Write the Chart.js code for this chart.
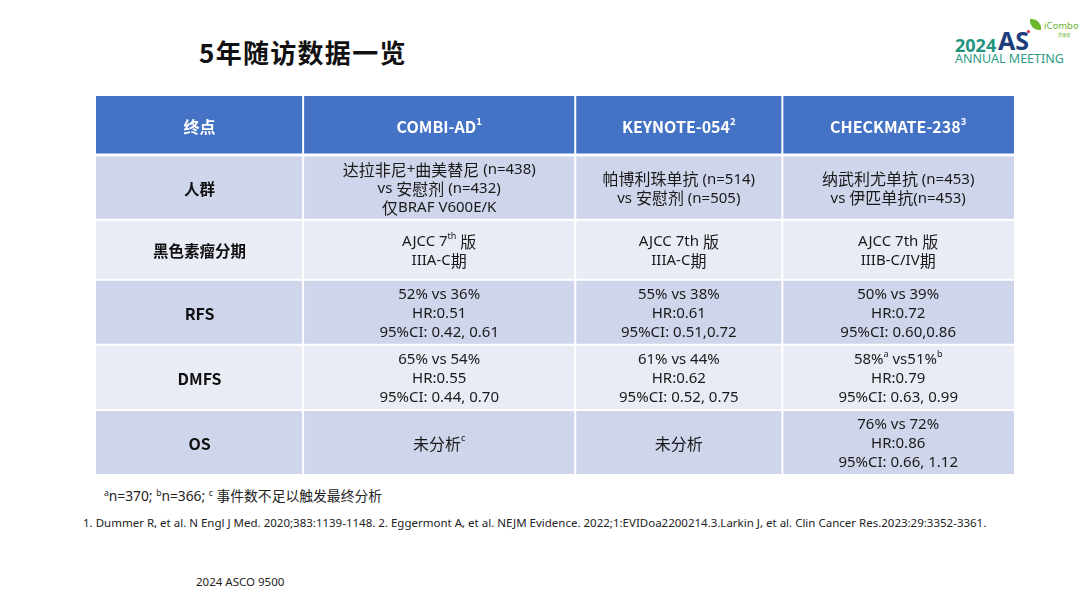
<!DOCTYPE html>
<html>
<head>
<meta charset="utf-8">
<script src="https://cdn.jsdelivr.net/npm/chart.js@4.4.1/dist/chart.umd.min.js"></script>
<style>
  body { margin: 0; width: 1080px; height: 608px; background: #fff; position: relative; overflow: hidden;
         font-family: "Noto Sans", "Liberation Sans", "Noto Sans CJK SC", sans-serif; color: #111; }
  #title { position: absolute; left: 199px; top: 33px; font-size: 26px; font-weight: 700; letter-spacing: 1.3px;
           font-family: "Noto Sans CJK SC", sans-serif; }
  #wrap { position: absolute; left: 96px; top: 96px; width: 918px; height: 378px; }
  #note { position: absolute; left: 104px; top: 485px; font-size: 13.8px; color: #222; }
  #note sup { font-size: 8.5px; vertical-align: 5px; }
  #refs { position: absolute; left: 83px; top: 515px; font-size: 11.5px; color: #222; white-space: nowrap; }
  #src { position: absolute; left: 196px; top: 574px; font-size: 11.5px; color: #222; }
  .logo { position: absolute; white-space: nowrap; line-height: 1; }
</style>
</head>
<body>
<div id="title">5年随访数据一览</div>

<div class="logo" style="left:955px;top:36px;font-size:18px;font-weight:700;color:#23957f;">2024</div>
<div class="logo" style="left:998px;top:28px;font-size:25px;font-weight:700;color:#1d3d7c;">AS</div>
<div class="logo" style="left:1027px;top:30px;width:3px;height:3px;border-radius:2px;background:#d9262b;"></div>
<div class="logo" style="left:955px;top:53px;font-size:12.5px;color:#2a9c86;">ANNUAL MEETING</div>
<div class="logo" style="left:1030px;top:19px;width:11px;height:11px;background:#6cb52d;border-radius:0 9px 0 9px;"></div>
<div class="logo" style="left:1044px;top:21px;font-size:9.5px;color:#6cb52d;">iCombo</div>
<div class="logo" style="left:1058px;top:33px;font-size:4px;color:#6cb52d;font-family:'Noto Sans CJK SC';">爱康博</div>

<div id="wrap"><canvas id="tbl" width="918" height="378"></canvas></div>

<div id="note"><sup>a</sup>n=370; <sup>b</sup>n=366; <sup>c</sup> 事件数不足以触发最终分析</div>
<div id="refs">1. Dummer R, et al. N Engl J Med. 2020;383:1139-1148. 2. Eggermont A, et al. NEJM Evidence. 2022;1:EVIDoa2200214.3.Larkin J, et al. Clin Cancer Res.2023:29:3352-3361.</div>
<div id="src">2024 ASCO 9500</div>

<script>
// table content, ^{..} marks a superscript
var headers = ['终点', 'COMBI-AD^{1}', 'KEYNOTE-054^{2}', 'CHECKMATE-238^{3}'];
var endpoints = ['人群', '黑色素瘤分期', 'RFS', 'DMFS', 'OS'];
var combiAd = [
    ['达拉非尼+曲美替尼 (n=438)', 'vs 安慰剂 (n=432)', '仅BRAF V600E/K'],
    ['AJCC 7^{th} 版', 'IIIA-C期'],
    ['52% vs 36%', 'HR:0.51', '95%CI: 0.42, 0.61'],
    ['65% vs 54%', 'HR:0.55', '95%CI: 0.44, 0.70'],
    ['未分析^{c}']
];
var keynote054 = [
    ['帕博利珠单抗 (n=514)', 'vs 安慰剂 (n=505)'],
    ['AJCC 7th 版', 'IIIA-C期'],
    ['55% vs 38%', 'HR:0.61', '95%CI: 0.51,0.72'],
    ['61% vs 44%', 'HR:0.62', '95%CI: 0.52, 0.75'],
    ['未分析']
];
var checkmate238 = [
    ['纳武利尤单抗 (n=453)', 'vs 伊匹单抗(n=453)'],
    ['AJCC 7th 版', 'IIIB-C/IV期'],
    ['50% vs 39%', 'HR:0.72', '95%CI: 0.60,0.86'],
    ['58%^{a} vs51%^{b}', 'HR:0.79', '95%CI: 0.63, 0.99'],
    ['76% vs 72%', 'HR:0.86', '95%CI: 0.66, 1.12']
];

// layout of the grid (in scale units)
var COL_WIDTHS = [207, 272, 207, 231.5];
var ROW_HEIGHTS = [59, 64.5, 60, 65, 65, 64];
var CJK_FONT = '"Noto Sans CJK SC", sans-serif';
var LATIN_FONT = '"Noto Sans", "Liberation Sans", sans-serif';
var CJK_RE = /[\u3000-\u9fff\uff00-\uffef]/;

function edges(sizes) {
    var out = [0];
    for (var i = 0; i < sizes.length; i++) out.push(out[i] + sizes[i]);
    return out;
}

// split "abc^{x}def" into plain / superscript runs, then by script
function parseRich(text) {
    var parts = [], re = /\^\{([^}]*)\}/g, last = 0, m;
    function push(t, sup) {
        var cur = null;
        for (var i = 0; i < t.length; i++) {
            var cjk = CJK_RE.test(t[i]);
            if (!cur || cur.cjk !== cjk) {
                cur = { t: '', sup: sup, cjk: cjk };
                parts.push(cur);
            }
            cur.t += t[i];
        }
    }
    while ((m = re.exec(text)) !== null) {
        if (m.index > last) push(text.slice(last, m.index), false);
        push(m[1], true);
        last = re.lastIndex;
    }
    if (last < text.length) push(text.slice(last), false);
    return parts;
}

function drawRich(ctx, text, cx, cy, opt) {
    var parts = parseRich(text);
    var total = 0;
    parts.forEach(function (p) {
        var base = p.cjk ? opt.cjkSize : opt.size;
        p.size = p.sup ? opt.size * 0.6 : base;
        p.font = opt.weight + ' ' + p.size + 'px ' + (p.cjk ? CJK_FONT : opt.latin);
        ctx.font = p.font;
        p.w = ctx.measureText(p.t).width;
        total += p.w;
    });
    var x = cx - total / 2;
    ctx.fillStyle = opt.color;
    ctx.textAlign = 'left';
    ctx.textBaseline = 'middle';
    parts.forEach(function (p) {
        ctx.font = p.font;
        ctx.fillText(p.t, x, p.sup ? cy - opt.size * 0.33 : cy);
        x += p.w;
    });
}

var headStyle = { size: 16, cjkSize: 16, weight: 'bold', color: '#ffffff', latin: CJK_FONT };
var labelStyle = { size: 16, cjkSize: 15.5, weight: 'bold', color: '#111111', latin: CJK_FONT };
var cellStyle = { size: 15, cjkSize: 16, weight: 'normal', color: '#1a1a1a', latin: LATIN_FONT };

var tablePlugin = {
    id: 'tablePlugin',
    afterDatasetsDraw: function (chart) {
        var ctx = chart.ctx, xs = chart.scales.x, ys = chart.scales.y;
        var cols = edges(COL_WIDTHS), rows = edges(ROW_HEIGHTS);
        var body = [endpoints, combiAd, keynote054, checkmate238];
        ctx.save();
        for (var r = 0; r < ROW_HEIGHTS.length; r++) {
            var y0 = ys.getPixelForValue(rows[r]), y1 = ys.getPixelForValue(rows[r + 1]);
            var fill = r === 0 ? '#4472C4' : (r % 2 === 1 ? '#CFD5EA' : '#E9EBF5');
            for (var c = 0; c < COL_WIDTHS.length; c++) {
                var x0 = xs.getPixelForValue(cols[c]), x1 = xs.getPixelForValue(cols[c + 1]);
                ctx.fillStyle = fill;
                ctx.fillRect(x0, y0, x1 - x0, y1 - y0);
                var cx = (x0 + x1) / 2, cy = (y0 + y1) / 2 + 1.5;
                if (r === 0) {
                    drawRich(ctx, headers[c], cx, cy, headStyle);
                } else if (c === 0) {
                    drawRich(ctx, body[0][r - 1], cx, cy, labelStyle);
                } else {
                    var lines = body[c][r - 1];
                    var lh = 19;
                    var start = cy - (lines.length - 1) * lh / 2;
                    lines.forEach(function (ln, i) {
                        drawRich(ctx, ln, cx, start + i * lh, cellStyle);
                    });
                }
            }
        }
        // white rules between cells
        ctx.strokeStyle = '#ffffff';
        var top = ys.getPixelForValue(0), bottom = ys.getPixelForValue(rows[rows.length - 1]);
        var left = xs.getPixelForValue(0), right = xs.getPixelForValue(cols[cols.length - 1]);
        ctx.lineWidth = 2;
        for (var i = 1; i < cols.length - 1; i++) {
            var x = xs.getPixelForValue(cols[i]);
            ctx.beginPath(); ctx.moveTo(x, top); ctx.lineTo(x, bottom); ctx.stroke();
        }
        for (var j = 1; j < rows.length - 1; j++) {
            var y = ys.getPixelForValue(rows[j]);
            ctx.lineWidth = j === 1 ? 3 : 2;
            ctx.beginPath(); ctx.moveTo(left, y); ctx.lineTo(right, y); ctx.stroke();
        }
        ctx.restore();
    }
};

new Chart(document.getElementById('tbl').getContext('2d'), {
    type: 'scatter',
    data: { datasets: [{ data: [], pointRadius: 0 }] },
    options: {
        responsive: false,
        animation: false,
        layout: { padding: 0 },
        scales: {
            x: { type: 'linear', display: false, min: 0, max: edges(COL_WIDTHS)[COL_WIDTHS.length] },
            y: { type: 'linear', display: false, reverse: true, min: 0, max: edges(ROW_HEIGHTS)[ROW_HEIGHTS.length] }
        },
        plugins: { legend: { display: false }, tooltip: { enabled: false } }
    },
    plugins: [tablePlugin]
});
</script>
</body>
</html>
